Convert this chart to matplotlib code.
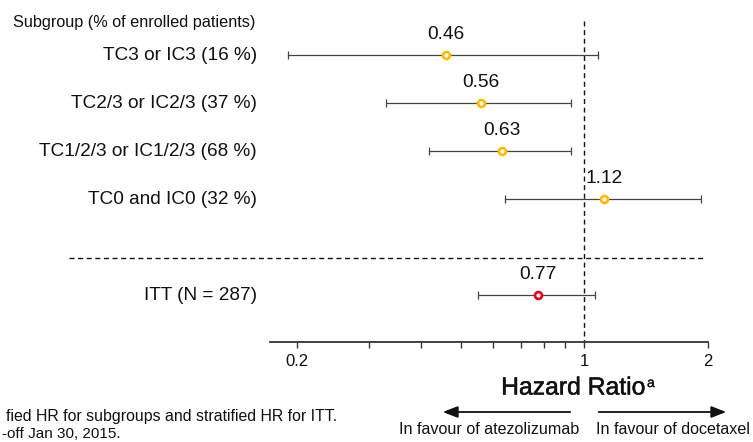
import matplotlib
matplotlib.use("Agg")
import matplotlib.pyplot as plt
import matplotlib.patheffects as pe
from matplotlib.lines import Line2D
from matplotlib.patches import FancyArrowPatch
from matplotlib.transforms import blended_transform_factory
from matplotlib.ticker import FixedLocator, NullFormatter, FixedFormatter

plt.rcParams['font.family'] = ['Liberation Sans', 'DejaVu Sans']
plt.rcParams['lines.scale_dashes'] = False

# ---- data ----
subgroups = ["TC3 or IC3 (16 %)", "TC2/3 or IC2/3 (37 %)",
             "TC1/2/3 or IC1/2/3 (68 %)", "TC0 and IC0 (32 %)", "ITT (N = 287)"]
hr = [0.46, 0.56, 0.63, 1.12, 0.77]
ci_low = [0.19, 0.33, 0.42, 0.64, 0.55]
ci_high = [1.08, 0.93, 0.93, 1.92, 1.06]
hr_labels = ["0.46", "0.56", "0.63", "1.12", "0.77"]
row_pos = [0, 1, 2, 3, 5]
marker_colors = ["#FFB900", "#FFB900", "#FFB900", "#FFB900", "#E2001A"]
major_ticks = [0.2, 1, 2]
major_tick_labels = ["0.2", "1", "2"]
minor_ticks = [0.3, 0.4, 0.5, 0.6, 0.7, 0.8, 0.9]

W, H = 753, 442
def fx(x): return x / W
def fy(y): return 1 - y / H

TXT = '#111111'
fig = plt.figure(figsize=(W / 100, H / 100), dpi=100)
ax = fig.add_axes([fx(270), fy(341.7), fx(708) - fx(270), fy(10) - fy(341.7)])
ax.set_xscale('log')
ax.set_xlim(0.172, 2.0)
ax.set_ylim(5.97, -0.94)
ax.patch.set_alpha(0)

for s in ['top', 'right', 'left']:
    ax.spines[s].set_visible(False)
ax.spines['bottom'].set_color('#333333')
ax.spines['bottom'].set_linewidth(1.3)
ax.set_yticks([])
ax.xaxis.set_major_locator(FixedLocator(major_ticks))
ax.xaxis.set_major_formatter(FixedFormatter(major_tick_labels))
ax.xaxis.set_minor_locator(FixedLocator(minor_ticks))
ax.xaxis.set_minor_formatter(NullFormatter())
ax.tick_params(axis='x', which='both', length=4, width=1, color='#333333',
               labelsize=12, pad=5, labelcolor=TXT)

# reference line at HR = 1
ax.plot([1, 1], [-0.715, 5.97], color=TXT, lw=1.0, ls=(0, (3.6, 2.6)),
        clip_on=False, zorder=1)

for y, h, lo, hi, lab, c in zip(row_pos, hr, ci_low, ci_high, hr_labels, marker_colors):
    ax.errorbar([h], [y], xerr=[[h - lo], [hi - h]], fmt='none', ecolor='#444444',
                elinewidth=0.9, capsize=2.6, capthick=0.9, zorder=2)
    ax.plot([h], [y], 'o', ms=5.0, mfc='white', mec=c, mew=1.9, zorder=3)
    ax.text(h, y - 0.42, lab, ha='center', va='center', fontsize=13.8, color=TXT)

# subgroup labels
tr = blended_transform_factory(fig.transFigure, ax.transData)
for y, name in zip(row_pos, subgroups):
    ax.text(fx(257), y, name, transform=tr, ha='right', va='center',
            fontsize=13.7, color=TXT)

fig.text(fx(13), fy(22), "Subgroup (% of enrolled patients)", ha='left', va='center',
         fontsize=11.7, color=TXT)

# separator
fig.add_artist(Line2D([fx(69), fx(705)], [fy(257.7), fy(257.7)], color=TXT,
                      lw=1.0, ls=(0, (3.6, 2.6))))

# axis title
fig.text(fx(645), fy(387.5), "Hazard Ratio", ha='right', va='center',
         fontsize=17.8, color=TXT,
         path_effects=[pe.withStroke(linewidth=0.35, foreground=TXT)])
fig.text(fx(647), fy(383), "a", ha='left', va='center', fontsize=10, color=TXT,
         path_effects=[pe.withStroke(linewidth=0.2, foreground=TXT)])

# direction arrows
for x0, x1 in [(573, 440), (596, 729)]:
    fig.add_artist(FancyArrowPatch((fx(x0), fy(412)), (fx(x1), fy(412)),
                   transform=fig.transFigure, arrowstyle='-|>,head_length=9,head_width=3.5',
                   color=TXT, lw=1.3, mutation_scale=1))
fig.text(fx(489), fy(429.5), "In favour of atezolizumab", ha='center', va='center',
         fontsize=11.6, color=TXT)
fig.text(fx(673), fy(429.5), "In favour of docetaxel", ha='center', va='center',
         fontsize=11.6, color=TXT)

# footnote (partially visible in reference)
fig.text(fx(337), fy(416.5), "fied HR for subgroups and stratified HR for ITT.",
         ha='right', va='center', fontsize=11.4, color=TXT)
fig.text(fx(121), fy(434.3), "-off Jan 30, 2015.", ha='right', va='center',
         fontsize=11, color=TXT)

fig.savefig("out.png", dpi=100)
